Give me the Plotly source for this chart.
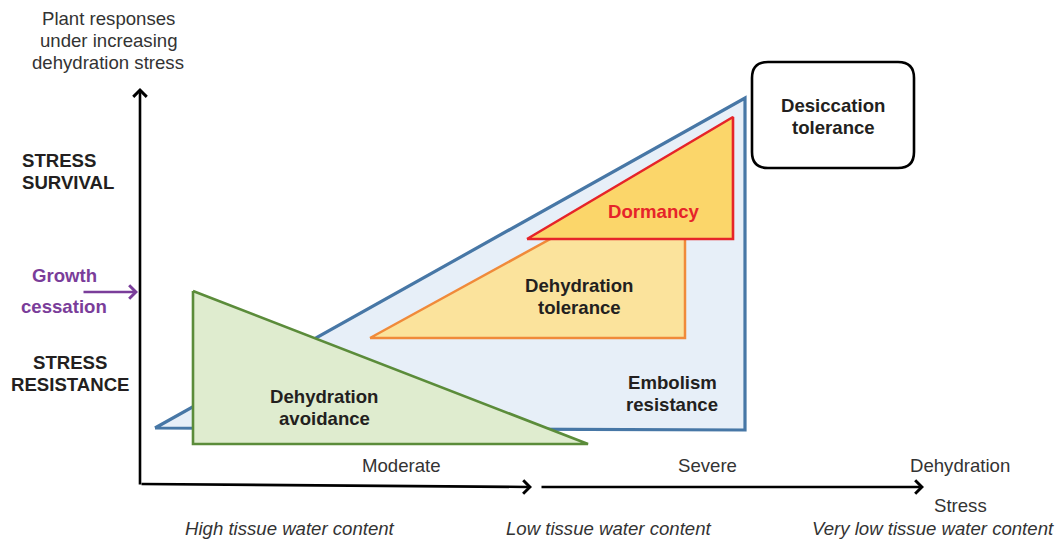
import plotly.graph_objects as go

# Shapes of the conceptual diagram (canvas units, y grows downward)
embolism_x = [155, 745, 745, 155]
embolism_y = [428, 98, 430, 428]
tolerance_x = [370, 685, 685, 370]
tolerance_y = [338, 165, 338, 338]
dormancy_x = [527, 733, 733, 527]
dormancy_y = [239, 117, 239, 239]
avoidance_x = [193, 193, 588, 193]
avoidance_y = [291, 444, 444, 291]

FONT = "Liberation Sans, Arial, sans-serif"
DARK = "#231f20"
GREY = "#333333"
PURPLE = "#7a3d9a"
FS = 18.6
LS = 22  # line spacing of multi-line labels

fig = go.Figure()

def tri(x, y, fill, line, w):
    fig.add_trace(go.Scatter(x=x, y=y, mode="lines", fill="toself", fillcolor=fill,
                             line=dict(color=line, width=w), hoverinfo="skip", showlegend=False))

tri(embolism_x, embolism_y, "#e7eff8", "#4777a6", 3.2)
tri(tolerance_x, tolerance_y, "#fbe39c", "#f08a3a", 2.5)
tri(dormancy_x, dormancy_y, "#fbd66a", "#e62429", 2.6)
tri(avoidance_x, avoidance_y, "#dfeccf", "#5b8c3a", 2.6)

# Desiccation tolerance rounded box
x0, y0, x1, y1, r = 752, 62, 914, 168, 16
path = (f"M{x0+r},{y0} L{x1-r},{y0} Q{x1},{y0} {x1},{y0+r} L{x1},{y1-r} Q{x1},{y1} {x1-r},{y1} "
        f"L{x0+r},{y1} Q{x0},{y1} {x0},{y1-r} L{x0},{y0+r} Q{x0},{y0} {x0+r},{y0} Z")
fig.add_shape(type="path", path=path, xref="x", yref="y", line=dict(color="black", width=2.6),
              fillcolor="white")

ann = []
def txt(x, y, lines, size=FS, color=DARK, bold=False, italic=False, xanchor="center"):
    if isinstance(lines, str):
        lines = [lines]
    for i, s in enumerate(lines):
        if bold:
            s = f"<b>{s}</b>"
        if italic:
            s = f"<i>{s}</i>"
        ann.append(dict(x=x, y=y + i * LS, xref="x", yref="y", text=s, showarrow=False,
                        xanchor=xanchor, yanchor="middle",
                        font=dict(family=FONT, size=size, color=color)))

def arrow(xs, ys, xe, ye, color="black", width=2.6, head=4, size=1.0):
    ann.append(dict(x=xe, y=ye, ax=xs, ay=ys, xref="x", yref="y", axref="x", ayref="y",
                    text="", showarrow=True, arrowhead=head, arrowsize=size,
                    arrowwidth=width, arrowcolor=color))

# Axes arrows
arrow(140, 486, 140, 88)
arrow(140, 484, 532, 487)
arrow(540, 487, 924, 487)
arrow(82, 292, 138, 292, color=PURPLE, width=2.6)

txt(108, 18, ["Plant responses", "under increasing", "dehydration stress"], color=GREY)
txt(20, 160, ["STRESS", "SURVIVAL"], bold=True, xanchor="left")
txt(64, 275, "Growth", bold=True, color=PURPLE)
txt(64, 306, "cessation", bold=True, color=PURPLE)
txt(70, 362, ["STRESS", "RESISTANCE"], bold=True)
txt(324, 396, ["Dehydration", "avoidance"], bold=True)
txt(579, 285, ["Dehydration", "tolerance"], bold=True)
txt(654, 211, "Dormancy", bold=True, color="#e62429")
txt(672, 382, ["Embolism", "resistance"], bold=True)
txt(833, 105, ["Desiccation", "tolerance"], bold=True)
txt(401, 465, "Moderate", color=GREY)
txt(707, 465, "Severe", color=GREY)
txt(960, 465, "Dehydration", color=GREY)
txt(960, 505, "Stress", color=GREY)
txt(290, 528, "High tissue water content", italic=True, color=GREY)
txt(608, 528, "Low tissue water content", italic=True, color=GREY)
txt(933, 528, "Very low tissue water content", italic=True, color=GREY)

W, H = 1057, 539
fig.update_layout(
    width=W, height=H, margin=dict(l=0, r=0, t=0, b=0),
    paper_bgcolor="white", plot_bgcolor="white", annotations=ann,
    xaxis=dict(range=[0, W], visible=False, fixedrange=True),
    yaxis=dict(range=[H, 0], visible=False, fixedrange=True),
)
fig.write_html(
    "out.html",
    config={"displayModeBar": False},
    post_script="document.body.style.margin='0';document.body.style.overflow='hidden';",
)
